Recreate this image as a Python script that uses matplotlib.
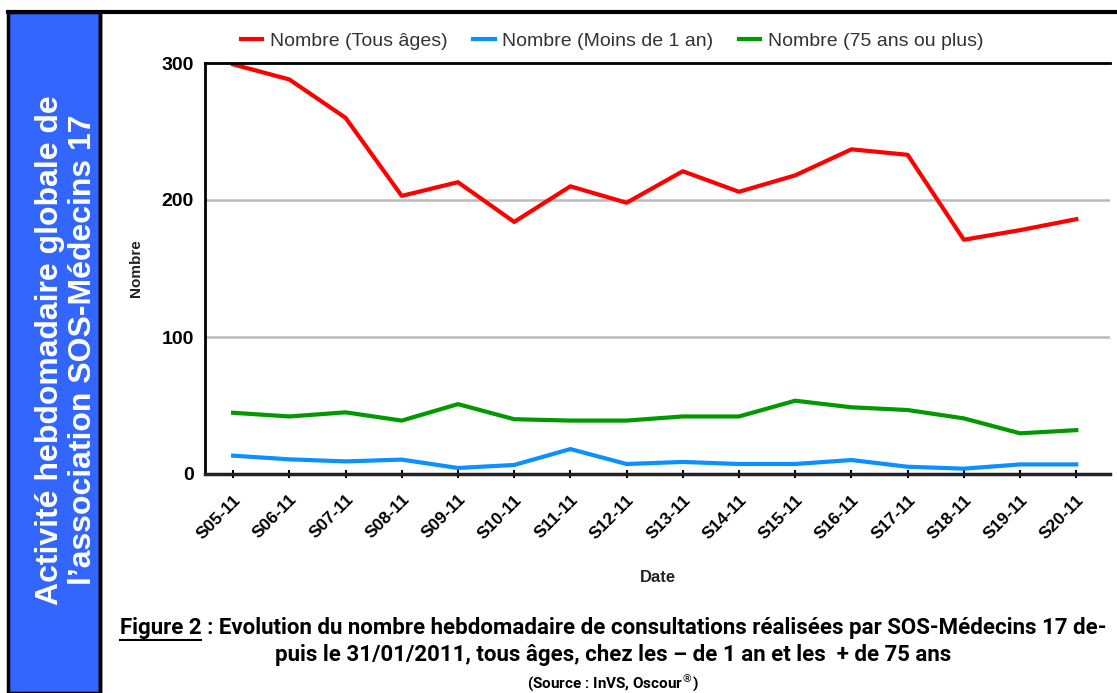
import matplotlib
matplotlib.use("Agg")
import matplotlib.pyplot as plt
import matplotlib.transforms as mtransforms
from matplotlib.patches import Rectangle
from matplotlib.lines import Line2D

weeks = ["S05-11", "S06-11", "S07-11", "S08-11", "S09-11", "S10-11", "S11-11", "S12-11",
         "S13-11", "S14-11", "S15-11", "S16-11", "S17-11", "S18-11", "S19-11", "S20-11"]
tous_ages = [299, 288, 260, 203, 213, 184, 210, 198, 221, 206, 218, 237, 233, 171, 178, 186]
moins_1an = [13.4, 10.7, 9.2, 10.5, 4.4, 6.6, 18.2, 7.3, 8.8, 7.3, 7.3, 10.2, 5.3, 3.9, 7.0, 7.0]
plus_75 = [44.7, 42, 45, 39, 51, 40, 39, 39, 42, 42, 53.5, 48.7, 46.7, 40.6, 29.7, 32]
yticks = [0, 100, 200, 300]

W, H = 1117, 693
fig = plt.figure(figsize=(W / 100, H / 100), dpi=100)
plt.rcParams['font.family'] = ['Liberation Sans', 'DejaVu Sans']

# Left blue panel and frame lines
fig.patches.append(Rectangle((8 / W, 0), 92 / W, 1 - 12 / H, transform=fig.transFigure,
                             facecolor="#3366FF", edgecolor="black", linewidth=2.5, zorder=0))
fig.lines.append(Line2D([8 / W, 1], [1 - 12 / H, 1 - 12 / H], transform=fig.transFigure,
                        color="black", linewidth=3))
fig.lines.append(Line2D([100 / W, 100 / W], [0, 1 - 12 / H], transform=fig.transFigure,
                        color="black", linewidth=2.5))

fig.text(50 / W, 1 - 350 / H, "Activité hebdomadaire globale de", rotation=90, color="white",
         fontsize=23, fontweight="bold", ha="center", va="center")
fig.text(83 / W, 1 - 350 / H, "l\u2019association SOS-Médecins 17", rotation=90, color="white",
         fontsize=23, fontweight="bold", ha="center", va="center")

left, right, top, bottom = 205, 1110, 63, 474
ax = fig.add_axes([left / W, 1 - bottom / H, (right - left) / W, (bottom - top) / H])
x = list(range(len(weeks)))
ax.plot(x, tous_ages, color="#FF0000", lw=3, label="Nombre (Tous âges)")
ax.plot(x, moins_1an, color="#0A90FF", lw=3, label="Nombre (Moins de 1 an)")
ax.plot(x, plus_75, color="#009900", lw=3, label="Nombre (75 ans ou plus)")

ax.set_xlim(-0.5, 15.6)
ax.set_ylim(0, 300)
ax.set_yticks(yticks)
ax.set_yticklabels([str(v) for v in yticks], fontsize=14, fontweight="bold")
for v in yticks[1:]:
    ax.axhline(v, color="#BBBBBB", lw=1.8, zorder=0)
ax.set_xticks(x)
ax.set_xticklabels(weeks, rotation=45, ha="right", rotation_mode="anchor", fontsize=12.5,
                   fontweight="bold")
offset = mtransforms.ScaledTranslation(8 / 100, 0, fig.dpi_scale_trans)
for lab in ax.get_xticklabels():
    lab.set_transform(lab.get_transform() + offset)
ax.tick_params(axis="x", length=6, width=1.5, direction="inout", pad=10)
ax.tick_params(axis="y", length=0, pad=8)
ax.spines["right"].set_visible(False)
ax.spines["top"].set_linewidth(2)
ax.spines["left"].set_linewidth(2)
ax.spines["bottom"].set_linewidth(2.5)
ax.spines["bottom"].set_color("#222222")
ax.set_ylabel("Nombre", fontsize=11, fontweight="bold", color="#222222", labelpad=13)
ax.set_xlabel("Date", fontsize=12, fontweight="bold", color="#222222", labelpad=20)

leg = ax.legend(loc="center", bbox_to_anchor=(0.45, 1 + 22 / 411), ncol=3, frameon=False,
                handlelength=1.1, handletextpad=0.4, columnspacing=1.3,
                prop={"size": 14})
for t in leg.get_texts():
    t.set_color("#333333")

cap_font = ["Roboto", "DejaVu Sans"]
cx = 613 / W
t1 = fig.text(cx, 1 - 628 / H,
              "Figure 2 : Evolution du nombre hebdomadaire de consultations réalisées par SOS-Médecins 17 de-",
              ha="center", va="center", fontsize=16, fontweight="bold", family=cap_font)
fig.text(cx, 1 - 655 / H, "puis le 31/01/2011, tous âges, chez les \u2013 de 1 an et les  + de 75 ans",
         ha="center", va="center", fontsize=16, fontweight="bold", family=cap_font)
fig.text(cx, 1 - 682 / H, "(Source : InVS, Oscour$^{\\circledR}$)", ha="center", va="center",
         fontsize=11, fontweight="bold", family=cap_font)

# underline "Figure 2"
r = fig.canvas.get_renderer()
bb = t1.get_window_extent(r)
tmp = fig.text(0, 0, "Figure 2", fontsize=16, fontweight="bold", family=cap_font)
wfig = tmp.get_window_extent(r).width
tmp.remove()
uy = (bb.y0 - 1) / H
fig.lines.append(Line2D([bb.x0 / W, (bb.x0 + wfig) / W], [uy, uy], transform=fig.transFigure,
                        color="black", linewidth=1.5))

fig.savefig("out.png", dpi=100)
